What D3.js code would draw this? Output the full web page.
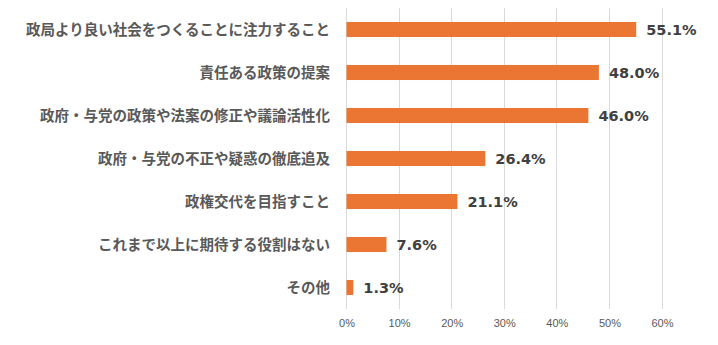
<!DOCTYPE html>
<html><head><meta charset="utf-8">
<script src="https://cdn.jsdelivr.net/npm/d3@7"></script>
<style>body{margin:0;background:#fff}</style>
</head><body>
<svg id="c" width="718" height="345"></svg>
<script>
const categories = ["政局より良い社会をつくることに注力すること","責任ある政策の提案","政府・与党の政策や法案の修正や議論活性化","政府・与党の不正や疑惑の徹底追及","政権交代を目指すこと","これまで以上に期待する役割はない","その他"];
const values = [55.1, 48.0, 46.0, 26.4, 21.1, 7.6, 1.3];
const tickValues = [0,10,20,30,40,50,60];

const svg = d3.select("#c");
const x = d3.scaleLinear().domain([0,60]).range([346.5,662]);
const y = d3.scaleBand().domain(categories).range([8,309]).paddingInner(0.65).paddingOuter(0.325);

svg.append("g").selectAll("line").data(tickValues).join("line")
  .attr("x1",d=>x(d)).attr("x2",d=>x(d)).attr("y1",8).attr("y2",309)
  .attr("stroke","#d9d9d9").attr("stroke-width",1).attr("shape-rendering","crispEdges");

const xa = svg.append("g").attr("transform","translate(0,309)")
  .call(d3.axisBottom(x).tickValues(tickValues).tickFormat(d=>d+"%").tickSize(0).tickPadding(10));
xa.select(".domain").remove();
xa.selectAll("text").attr("font-family","'Liberation Sans', Arial, sans-serif").attr("font-size","11px").attr("fill","#595959");

svg.append("g").selectAll("rect").data(values).join("rect")
  .attr("x",x(0)).attr("y",(d,i)=>y(categories[i]))
  .attr("width",d=>x(d)-x(0)).attr("height",y.bandwidth())
  .attr("fill","#EB7533");

svg.append("g").selectAll("text").data(values).join("text")
  .attr("x",d=>x(d)+10).attr("y",(d,i)=>y(categories[i])+y.bandwidth()/2)
  .attr("dy","0.36em")
  .attr("font-family","'DejaVu Sans', Verdana, sans-serif").attr("font-weight","bold")
  .attr("font-size","14.5px").attr("fill","#404040")
  .text(d=>d.toFixed(1)+"%");

svg.append("g").selectAll("text").data(categories).join("text")
  .attr("x",330).attr("y",d=>y(d)+y.bandwidth()/2)
  .attr("dy","0.36em").attr("text-anchor","end")
  .attr("font-family","'Noto Sans CJK JP', sans-serif").attr("font-weight","bold")
  .attr("font-size","14.5px").attr("fill","#595959")
  .text(d=>d);
</script>
</body></html>
